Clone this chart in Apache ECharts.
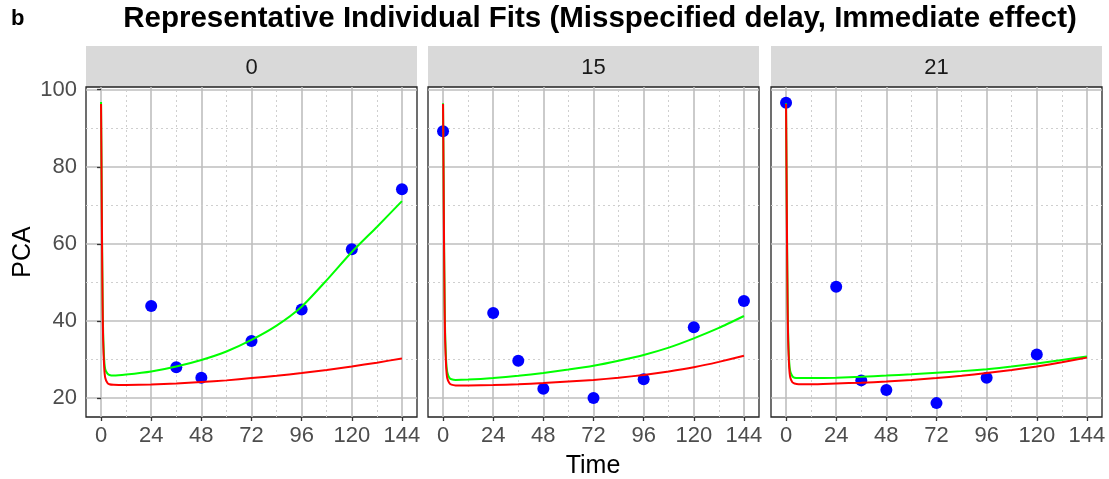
<!DOCTYPE html>
<html>
<head>
<meta charset="utf-8">
<script src="https://cdn.jsdelivr.net/npm/echarts@6/dist/echarts.min.js"></script>
<style>html,body{margin:0;padding:0;background:#fff}#c{width:1109px;height:479px}</style>
</head>
<body>
<div id="c"></div>
<script>
// ---- data ----
const panels = ['0', '15', '21'];
const xTicks = [0, 24, 48, 72, 96, 120, 144];
const xMinor = [12, 36, 60, 84, 108, 132];
const yTicks = [20, 40, 60, 80, 100];
const yMinor = [30, 50, 70, 90];

const fitTime = [0, 0.25, 0.5, 0.75, 1, 1.5, 2, 3, 4, 6, 12, 24, 36, 48, 60, 72, 84, 96, 108, 120, 132, 144];

const green0 = [96.8, 79, 60, 46, 37, 30, 27.5, 26.4, 26.0, 25.85, 26.1, 26.9, 28.2, 29.9, 32.1, 35.1, 38.8, 43.7, 50.6, 57.9, 64.4, 71.1];
const red0   = [96.3, 78, 58, 44, 35, 28, 25.3, 24.0, 23.6, 23.45, 23.4, 23.5, 23.8, 24.2, 24.6, 25.2, 25.8, 26.5, 27.3, 28.2, 29.2, 30.3];
const green15 = [96.5, 79, 60, 46, 37, 29.5, 26.8, 25.3, 24.9, 24.7, 24.8, 25.2, 25.8, 26.5, 27.4, 28.4, 29.7, 31.2, 33.1, 35.5, 38.2, 41.3];
const red15   = [96.3, 78, 58, 44, 35, 28, 25.2, 23.9, 23.5, 23.3, 23.3, 23.4, 23.6, 23.9, 24.3, 24.7, 25.3, 26.0, 26.9, 28.0, 29.4, 31.0];
const green21 = [96.5, 79, 60, 46, 37, 29.5, 27, 25.7, 25.3, 25.2, 25.2, 25.3, 25.55, 25.85, 26.2, 26.6, 27.0, 27.5, 28.2, 29.0, 29.9, 30.8];
const red21   = [96.3, 78, 58, 44, 35, 28, 25.4, 24.1, 23.8, 23.6, 23.6, 23.8, 24.0, 24.3, 24.7, 25.2, 25.8, 26.5, 27.3, 28.2, 29.3, 30.5];

const obsTime0 = [24, 36, 48, 72, 96, 120, 144];
const obs0 = [43.9, 28.0, 25.3, 34.8, 43.0, 58.6, 74.2];
const obsTime15 = [0, 24, 36, 48, 72, 96, 120, 144];
const obs15 = [89.2, 42.1, 29.7, 22.4, 20.0, 24.9, 38.4, 45.2];
const obsTime21 = [0, 24, 36, 48, 72, 96, 120];
const obs21 = [96.6, 48.9, 24.6, 22.1, 18.7, 25.3, 31.3];

const greens = [green0, green15, green21];
const reds = [red0, red15, red21];
const obsTimes = [obsTime0, obsTime15, obsTime21];
const obsVals = [obs0, obs15, obs21];

// ---- layout ----
const FONT = '"Liberation Sans", Arial, Helvetica, sans-serif';
const gridLefts = [86, 428, 771];
const gridW = 331;
const gridTop = 87, gridH = 330;
const stripTop = 46;

const zip = (a, b) => a.map((v, i) => [v, b[i]]);

const grids = [], xAxes = [], yAxes = [], series = [], graphics = [];
panels.forEach((p, i) => {
  grids.push({left: gridLefts[i], top: gridTop, width: gridW, height: gridH,
    show: true, borderColor: '#222', borderWidth: 1.3, backgroundColor: '#fff', containLabel: false});
  xAxes.push({gridIndex: i, type: 'value', min: -7.2, max: 151.2,
    axisLine: {show: false},
    axisTick: {show: true, length: 4, lineStyle: {color: '#333', width: 1.3}, customValues: xTicks},
    axisLabel: {customValues: xTicks, color: '#4d4d4d', fontSize: 22, margin: 8, fontFamily: FONT},
    splitLine: {show: true, lineStyle: {color: '#bebebe', width: 1.6}}
  });
  yAxes.push({gridIndex: i, type: 'value', min: 15.1, max: 100.7,
    axisLine: {show: false},
    axisTick: {show: i === 0, length: 4, lineStyle: {color: '#333', width: 1.3}, customValues: yTicks},
    axisLabel: {show: i === 0, customValues: yTicks, color: '#4d4d4d', fontSize: 22, margin: 9, fontFamily: FONT},
    splitLine: {show: true, lineStyle: {color: '#bebebe', width: 1.6}}
  });
  // minor grid via markLine
  series.push({type: 'line', xAxisIndex: i, yAxisIndex: i, data: [], silent: true, z: 1,
    markLine: {silent: true, z: 1, symbol: ['none', 'none'], animation: false,
      label: {show: false},
      lineStyle: {type: [2, 3], color: '#cfcfcf', width: 1},
      emphasis: {disabled: true},
      data: xMinor.map(v => ({xAxis: v})).concat(yMinor.map(v => ({yAxis: v})))
    }
  });
  series.push({type: 'scatter', xAxisIndex: i, yAxisIndex: i, data: zip(obsTimes[i], obsVals[i]),
    symbolSize: 12, itemStyle: {color: '#0000ff', opacity: 1}, z: 2, silent: true});
  series.push({type: 'line', xAxisIndex: i, yAxisIndex: i, data: zip(fitTime, greens[i]),
    showSymbol: false, smooth: 0.2, lineStyle: {color: '#00ff00', width: 2}, z: 3, silent: true});
  series.push({type: 'line', xAxisIndex: i, yAxisIndex: i, data: zip(fitTime, reds[i]),
    showSymbol: false, smooth: 0.2, lineStyle: {color: '#ff0000', width: 2}, z: 4, silent: true});
  graphics.push({type: 'rect', left: gridLefts[i], top: stripTop,
    shape: {width: gridW, height: gridTop - stripTop}, style: {fill: '#d9d9d9'}, z: -1});
  graphics.push({type: 'text', x: gridLefts[i] + gridW / 2, y: (stripTop + gridTop) / 2 + 1,
    style: {text: p, fill: '#1a1a1a', font: '22px ' + FONT, textAlign: 'center', textVerticalAlign: 'middle'}});
});

graphics.push({type: 'text', x: 600, y: 19, style: {text: 'Representative Individual Fits (Misspecified delay, Immediate effect)',
  fill: '#000', font: 'bold 29.5px ' + FONT, textAlign: 'center', textVerticalAlign: 'middle'}});
graphics.push({type: 'text', x: 11, y: 19, style: {text: 'b', fill: '#000', font: 'bold 22px ' + FONT, textAlign: 'left', textVerticalAlign: 'middle'}});
graphics.push({type: 'text', x: 593, y: 466, style: {text: 'Time', fill: '#000', font: '25px ' + FONT, textAlign: 'center', textVerticalAlign: 'middle'}});
graphics.push({type: 'text', x: 23, y: 252, rotation: Math.PI / 2, style: {text: 'PCA', fill: '#000', font: '25px ' + FONT, textAlign: 'center', textVerticalAlign: 'middle'}});

const chart = echarts.init(document.getElementById('c'), null, {renderer: 'canvas'});
chart.setOption({
  animation: false,
  grid: grids, xAxis: xAxes, yAxis: yAxes, series: series, graphic: graphics
});
</script>
</body>
</html>
